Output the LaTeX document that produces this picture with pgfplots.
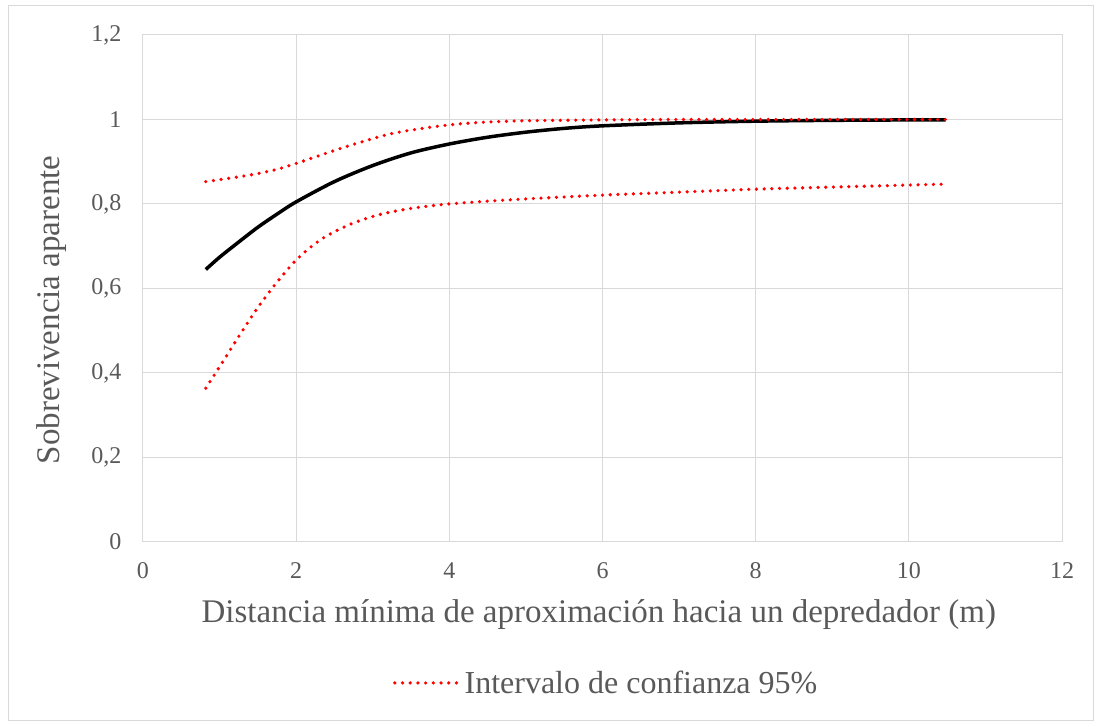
\documentclass[border=0pt]{standalone}
\usepackage{pgfplots}
\pgfplotsset{compat=1.18}
\usepackage{fontspec}
\setmainfont{Liberation Serif}
\definecolor{txt}{HTML}{595959}
\definecolor{grd}{HTML}{D9D9D9}
\begin{document}
\begin{tikzpicture}[x=1pt,y=1pt]
\useasboundingbox (0,0) rectangle (1101,727);
\draw[grd, line width=1pt] (8,6) rectangle (1093,721);
\begin{axis}[
  at={(143pt,185pt)}, anchor=south west,
  width=919pt, height=507pt, scale only axis,
  xmin=0, xmax=12, ymin=0, ymax=1.2,
  xtick={0,2,4,6,8,10,12},
  ytick={0,0.2,0.4,0.6,0.8,1,1.2},
  /pgf/number format/use comma,
  /pgf/number format/assume math mode=true,
  major tick length=0pt,
  grid=major,
  grid style={grd, line width=1pt},
  axis line style={grd, line width=1pt},
  tick label style={font=\fontsize{24}{28}\selectfont, text=txt},
  xticklabel style={yshift=-17pt},
  yticklabel style={xshift=-18pt},
  xlabel={Distancia mínima de aproximación hacia un depredador (m)},
  ylabel={Sobrevivencia aparente},
  label style={font=\fontsize{33}{38}\selectfont, text=txt},
  xlabel style={at={(axis description cs:0.496,-0.144)}, anchor=center},
  ylabel style={at={(axis description cs:-0.099,0.458)}, anchor=center, rotate=0},
  legend style={at={(axis description cs:0.504,-0.278)}, anchor=center, draw=none,
    font=\fontsize{32}{36}\selectfont, text=txt},
  legend image code/.code={\draw[#1] (0pt,0pt) -- (66pt,0pt);},
]
\addplot[black, line width=3.5pt, smooth, forget plot] coordinates {
(0.82,0.645) (1,0.674) (1.25,0.710) (1.5,0.745) (1.75,0.776) (2,0.805)
(2.5,0.853) (3,0.891) (3.5,0.921) (4,0.942) (4.5,0.958) (5,0.970)
(5.5,0.979) (6,0.985) (7,0.992) (8,0.996) (9,0.998) (10,0.999) (10.48,0.9993)
};
\addplot[red, line width=3.6pt, line cap=round, dash pattern=on 0pt off 7.7pt, smooth] coordinates {
(0.82,0.853) (1.13,0.861) (1.44,0.870) (1.75,0.882) (2.05,0.899) (2.34,0.917)
(2.64,0.935) (2.93,0.951) (3.23,0.966) (3.54,0.976) (3.85,0.984) (4.16,0.990)
(4.5,0.994) (5,0.997) (6,0.999) (7,1.0) (8,1.0) (9,1.0) (10.48,1.0)
};
\addlegendentry{Intervalo de confianza 95\%}
\addplot[red, line width=3.6pt, line cap=round, dash pattern=on 0pt off 7.7pt, smooth, forget plot] coordinates {
(0.82,0.364) (1.05,0.429) (1.27,0.492) (1.50,0.555) (1.75,0.615) (2.02,0.671)
(2.34,0.718) (2.72,0.753) (3.11,0.776) (3.52,0.790) (3.93,0.799) (4.36,0.805)
(5,0.812) (6,0.821) (7,0.828) (8,0.835) (9,0.840) (10.48,0.847)
};
\end{axis}
\end{tikzpicture}
\end{document}
